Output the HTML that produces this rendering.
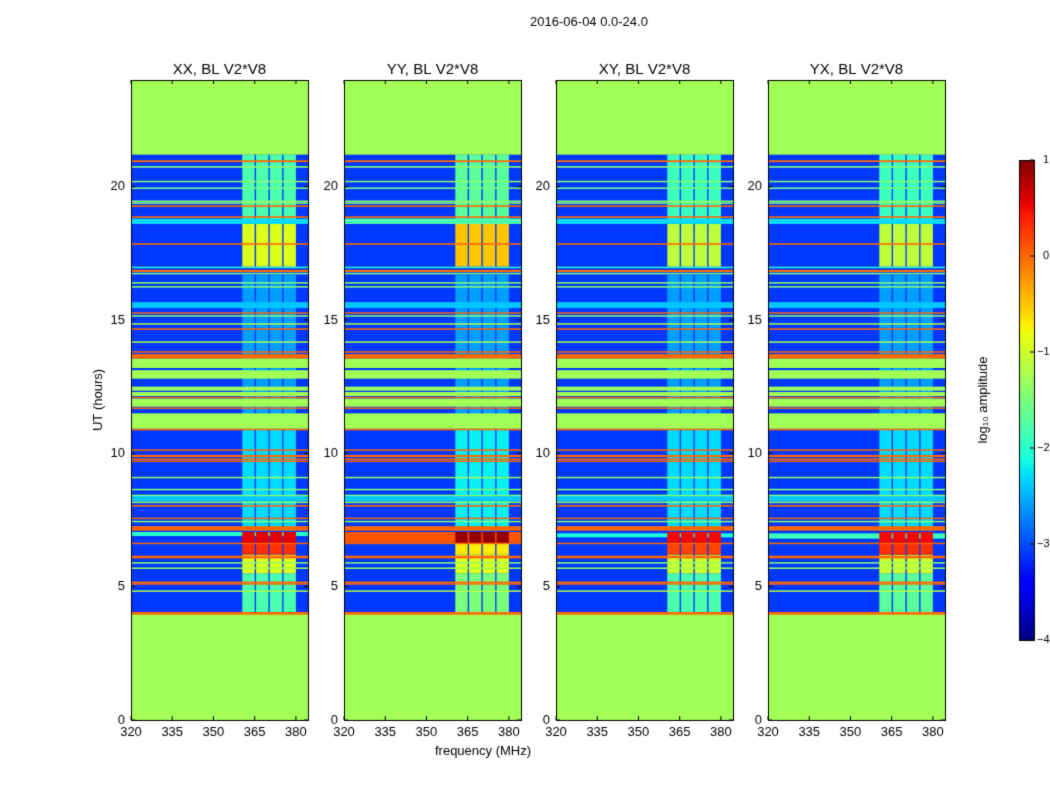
<!DOCTYPE html>
<html><head><meta charset="utf-8">
<style>
body{margin:0;background:#fff;width:1050px;height:800px;overflow:hidden;font-family:"Liberation Sans",sans-serif;}
#wrap{position:relative;width:1050px;height:800px;}
canvas{position:absolute;left:0;top:0;}
</style></head>
<body>
<div id="wrap">
<canvas id="c" width="1050" height="800"></canvas>
</div>
<script>
// ---- data ----
const panelTitles = ["XX, BL V2*V8","YY, BL V2*V8","XY, BL V2*V8","YX, BL V2*V8"];
const yTicks = [0,5,10,15,20];
const xTicks = [320,335,350,365,380];
const cbTicks = [1,0,-1,-2,-3,-4];
const bgValue = -3.1;
// shared horizontal bands: [startHour, endHour, log10 amplitude]
const bands = [
 [0,4.0,-1.27],[3.95,4.05,0],
 [21.2,24,-1.27],[20.92,20.99,0],[20.71,20.77,-1.4],[20.17,20.22,-1.4],[19.92,19.97,-1.5],
 [19.43,19.48,-1.4],[19.37,19.41,-1.5],[19.24,19.3,0],[18.83,18.89,0],[18.6,18.8,-2.3],
 [17.82,17.88,0],[16.95,17.0,-2.0],[16.8,16.88,0],[16.72,16.77,-1.5],[16.38,16.42,-1.4],[16.22,16.27,-1.4],
 [15.45,15.67,-2.4],[15.24,15.29,0],[15.14,15.18,-1.4],[14.83,14.88,-1.2],[14.63,14.69,0],
 [14.15,14.2,-1.2],[13.78,13.83,0],[13.55,13.72,0],[13.2,13.55,-1.27],[12.8,13.12,-1.27],
 [12.35,12.5,-1.27],[12.15,12.3,-1.27],[12.07,12.12,0],[11.75,12.05,-1.27],[11.67,11.72,0],
 [10.92,11.5,-1.27],[10.87,10.92,0],
 [10.1,10.15,0],[9.86,9.94,0],[9.78,9.81,0],[9.7,9.73,0],[9.08,9.12,-1.3],[8.63,8.67,-1.4],
 [8.2,8.4,-2.4],[8.4,8.45,-1.5],[8.15,8.19,-1.3],[8.0,8.06,0],[7.55,7.59,0],[7.43,7.47,-1.4],
 [7.1,7.27,0],[6.61,6.65,0],[6.06,6.16,0],[5.88,5.92,-1.4],[5.68,5.72,-1.3],
 [5.15,5.19,0],[5.1,5.13,0],[4.82,4.86,-1.2]
];
// bright frequency columns (MHz)
const colEdges = [[360.5,365],[365.5,370],[370.5,375],[375.5,380]];
// per-panel column values: [startHour, endHour, value]
const colVals = [
 [[4,5.5,-1.8],[5.5,6.2,-0.9],[6.2,6.65,0.3],[6.65,7.05,0.55],[7.1,10.9,-2.3],[11,16.7,-2.6],[17.0,18.6,-0.9],[18.6,21.2,-1.8]],
 [[4,5.5,-1.5],[5.5,6.2,-0.9],[6.2,6.65,-0.7],[6.65,7.05,0.9],[7.1,10.9,-2.2],[11,16.7,-2.6],[17.0,18.6,-0.5],[18.6,21.2,-1.7]],
 [[4,5.5,-1.8],[5.5,6.2,-1.0],[6.2,6.65,0.2],[6.65,7.05,0.5],[7.1,10.9,-2.3],[11,16.7,-2.6],[17.0,18.6,-1.1],[18.6,21.2,-1.9]],
 [[4,5.5,-1.7],[5.5,6.2,-1.0],[6.2,6.65,0.3],[6.65,7.05,0.5],[7.1,10.9,-2.3],[11,16.7,-2.6],[17.0,18.6,-1.1],[18.6,21.2,-1.9]]
];
// per-panel extra bands: [startHour, endHour, value, fMinMHz]
const extraBands = [
 [[6.9,7.05,-2.0,320]],
 [[6.65,7.05,0.1,320],[18.6,18.8,-1.8,320]],
 [[6.85,7.0,-2.1,320]],
 [[6.8,7.0,-1.9,320]]
];
// ---- rendering ----
const fMin=320,fMax=384.4,hMin=0,hMax=24,vMin=-4,vMax=1;
const lefts=[131,344,556,768],PW=177,PT=80,PH=640;
const ctx=document.getElementById('c').getContext('2d');
function interp(pts,t){for(let i=1;i<pts.length;i++){if(t<=pts[i][0]){const a=pts[i-1],b=pts[i];return a[1]+(b[1]-a[1])*(t-a[0])/(b[0]-a[0]);}}return pts[pts.length-1][1];}
function jet(v){let t=(v-vMin)/(vMax-vMin);t=Math.max(0,Math.min(1,t));
 const r=interp([[0,0],[0.35,0],[0.66,1],[0.89,1],[1,0.5]],t),g=interp([[0,0],[0.125,0],[0.375,1],[0.64,1],[0.91,0],[1,0]],t),b=interp([[0,0.5],[0.11,1],[0.34,1],[0.65,0],[1,0]],t);
 return `rgb(${Math.round(r*255)},${Math.round(g*255)},${Math.round(b*255)})`;}
function xs(p,f){return lefts[p]+(f-fMin)/(fMax-fMin)*PW;}
function ys(h){return PT+PH-(h-hMin)/(hMax-hMin)*PH;}
function rectHF(p,h0,h1,f0,f1,v){ctx.fillStyle=jet(v);const x0=xs(p,f0),x1=xs(p,f1),y0=ys(h1),y1=ys(h0);ctx.fillRect(x0,y0,x1-x0,Math.max(1.5,y1-y0));}
ctx.font='13px "Liberation Sans", sans-serif';
for(let p=0;p<4;p++){
 rectHF(p,hMin,hMax,fMin,fMax,bgValue);
 colVals[p].forEach(cv=>colEdges.forEach(ce=>rectHF(p,cv[0],cv[1],ce[0],ce[1],cv[2])));
 bands.forEach(b=>rectHF(p,b[0],b[1],fMin,fMax,b[2]));
 extraBands[p].forEach(b=>rectHF(p,b[0],b[1],b[3],fMax,b[2]));
 colVals[p].filter(c=>c[0]>=6.6&&c[1]<=7.1).forEach(cv=>colEdges.forEach(ce=>rectHF(p,cv[0],cv[1],ce[0],ce[1],cv[2])));
 ctx.strokeStyle='#000';ctx.lineWidth=1;ctx.strokeRect(lefts[p]+0.5,PT+0.5,PW,PH);
 ctx.fillStyle='#000';ctx.textAlign='right';ctx.textBaseline='middle';
 yTicks.forEach(h=>{const y=ys(h);ctx.beginPath();ctx.moveTo(lefts[p],y);ctx.lineTo(lefts[p]+4,y);ctx.moveTo(lefts[p]+PW,y);ctx.lineTo(lefts[p]+PW-4,y);ctx.stroke();ctx.fillText(h,lefts[p]-6,y);});
 ctx.textAlign='center';ctx.textBaseline='top';
 xTicks.forEach(f=>{const x=xs(p,f);ctx.beginPath();ctx.moveTo(x,PT+PH);ctx.lineTo(x,PT+PH-4);ctx.moveTo(x,PT);ctx.lineTo(x,PT+4);ctx.stroke();ctx.fillText(f,x,PT+PH+6);});
 ctx.font='15px "Liberation Sans", sans-serif';ctx.textBaseline='bottom';
 ctx.fillText(panelTitles[p],lefts[p]+PW/2,PT-3);
 ctx.font='13px "Liberation Sans", sans-serif';
}
ctx.fillStyle='#000';
ctx.textAlign='center';ctx.textBaseline='middle';
ctx.fillText('2016-06-04 0.0-24.0',589,22);
ctx.fillText('frequency (MHz)',483,751);
ctx.save();ctx.translate(98,400);ctx.rotate(-Math.PI/2);ctx.fillText('UT (hours)',0,0);ctx.restore();
// colorbar
const CX=1019,CW=15,CT=160,CH=480;
for(let i=0;i<CH;i++){const v=vMax-(i+0.5)/CH*(vMax-vMin);ctx.fillStyle=jet(v);ctx.fillRect(CX,CT+i,CW,1.2);}
ctx.strokeStyle='#000';ctx.strokeRect(CX+0.5,CT+0.5,CW,CH);
ctx.fillStyle='#000';ctx.textAlign='left';ctx.textBaseline='middle';ctx.font='11px "Liberation Sans", sans-serif';
cbTicks.forEach(v=>{const y=CT+(vMax-v)/(vMax-vMin)*CH;ctx.beginPath();ctx.moveTo(CX+CW-4,y);ctx.lineTo(CX+CW,y);ctx.stroke();ctx.fillText(v<0?'\u2212'+(-v):String(v),v<0?CX+CW+3:CX+CW+9,y);});
ctx.save();ctx.translate(983,400);ctx.rotate(-Math.PI/2);ctx.font='13px "Liberation Sans", sans-serif';ctx.textAlign='center';ctx.fillStyle='#000';ctx.fillText('log\u2081\u2080 amplitude',0,0);ctx.restore();
</script>
<div style="display:none">
<span>2016-06-04 0.0-24.0</span>
<span>frequency (MHz)</span>
<span>UT (hours)</span>
<span>log10 amplitude</span>
<span>XX, BL V2*V8</span>
<span>YY, BL V2*V8</span>
<span>XY, BL V2*V8</span>
<span>YX, BL V2*V8</span>
</div>
</body></html>
